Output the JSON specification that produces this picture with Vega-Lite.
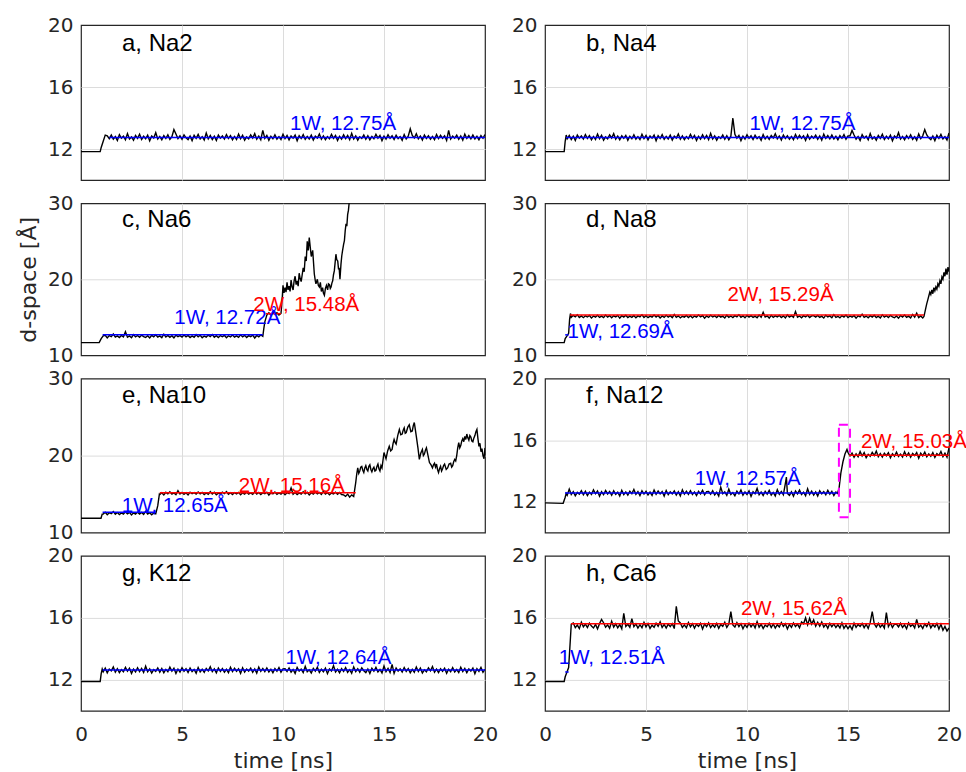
{
"$schema":"https://vega.github.io/schema/vega-lite/v6.json",
"padding":{"top":14,"left":16,"right":0,"bottom":0},
"background":"#ffffff",
"columns":2,
"spacing":{"row":23.3,"column":60},
"bounds":"flush",
"config":{
 "view":{"stroke":"#262626","strokeWidth":1.2},
 "axis":{"labelFont":"DejaVu Sans","labelFontSize":20,"labelColor":"#262626","titleFont":"DejaVu Sans","titleFontSize":22,"titleFontWeight":"normal","titleColor":"#262626","gridColor":"#dcdcdc","gridWidth":1,"domain":false,"ticks":false,"labelPadding":8},
 "axisX":{"labelFlush":false,"labelPadding":14,"titlePadding":6},
 "axisY":{"titlePadding":7},
 "line":{"strokeWidth":1.4},
 "rule":{"strokeWidth":1.5}
},
"datasets":{
"a":[{"t":0,"d":11.83},{"t":0.95,"d":11.83},{"t":1.0,"d":12.1},{"t":1.1,"d":12.5},{"t":1.2,"d":12.9},{"t":1.3,"d":12.85},{"t":1.4,"d":12.67},{"t":1.5,"d":12.9},{"t":1.6,"d":12.63},{"t":1.7,"d":12.8},{"t":1.8,"d":12.55},{"t":1.9,"d":12.93},{"t":2.0,"d":12.7},{"t":2.1,"d":12.83},{"t":2.2,"d":12.6},{"t":2.3,"d":13.0},{"t":2.4,"d":12.65},{"t":2.5,"d":12.78},{"t":2.6,"d":12.57},{"t":2.7,"d":12.87},{"t":2.8,"d":12.69},{"t":2.9,"d":12.95},{"t":3.0,"d":12.61},{"t":3.1,"d":12.82},{"t":3.2,"d":12.66},{"t":3.3,"d":12.89},{"t":3.4,"d":12.53},{"t":3.5,"d":12.84},{"t":3.6,"d":12.71},{"t":3.7,"d":13.05},{"t":3.8,"d":12.64},{"t":3.9,"d":12.81},{"t":4.0,"d":12.59},{"t":4.1,"d":12.86},{"t":4.2,"d":12.68},{"t":4.3,"d":12.92},{"t":4.4,"d":12.62},{"t":4.5,"d":12.79},{"t":4.6,"d":13.25},{"t":4.7,"d":12.97},{"t":4.8,"d":12.67},{"t":4.9,"d":12.85},{"t":5.0,"d":12.63},{"t":5.1,"d":12.91},{"t":5.2,"d":12.72},{"t":5.3,"d":12.6},{"t":5.4,"d":12.83},{"t":5.5,"d":12.54},{"t":5.6,"d":12.88},{"t":5.7,"d":12.69},{"t":5.8,"d":12.94},{"t":5.9,"d":12.65},{"t":6.0,"d":12.8},{"t":6.1,"d":12.58},{"t":6.2,"d":13.03},{"t":6.3,"d":12.66},{"t":6.4,"d":12.87},{"t":6.5,"d":12.61},{"t":6.6,"d":12.82},{"t":6.7,"d":12.55},{"t":6.8,"d":12.9},{"t":6.9,"d":12.7},{"t":7.0,"d":12.84},{"t":7.1,"d":12.64},{"t":7.2,"d":12.93},{"t":7.3,"d":12.68},{"t":7.4,"d":12.86},{"t":7.5,"d":12.59},{"t":7.6,"d":12.81},{"t":7.7,"d":12.62},{"t":7.8,"d":12.96},{"t":7.9,"d":12.67},{"t":8.0,"d":12.89},{"t":8.1,"d":12.57},{"t":8.2,"d":12.78},{"t":8.3,"d":12.65},{"t":8.4,"d":12.91},{"t":8.5,"d":12.71},{"t":8.6,"d":12.99},{"t":8.7,"d":12.63},{"t":8.8,"d":12.83},{"t":8.9,"d":12.6},{"t":9.0,"d":13.2},{"t":9.1,"d":12.69},{"t":9.2,"d":12.88},{"t":9.3,"d":12.56},{"t":9.4,"d":12.82},{"t":9.5,"d":12.66},{"t":9.6,"d":12.92},{"t":9.7,"d":12.64},{"t":9.8,"d":12.8},{"t":9.9,"d":12.61},{"t":10.0,"d":12.95},{"t":10.1,"d":12.67},{"t":10.2,"d":12.87},{"t":10.3,"d":12.59},{"t":10.4,"d":12.84},{"t":10.5,"d":12.7},{"t":10.6,"d":12.9},{"t":10.7,"d":12.53},{"t":10.8,"d":12.86},{"t":10.9,"d":12.68},{"t":11.0,"d":12.93},{"t":11.1,"d":12.62},{"t":11.2,"d":12.81},{"t":11.3,"d":12.65},{"t":11.4,"d":12.89},{"t":11.5,"d":12.58},{"t":11.6,"d":12.83},{"t":11.7,"d":12.71},{"t":11.8,"d":12.97},{"t":11.9,"d":12.63},{"t":12.0,"d":12.85},{"t":12.1,"d":12.6},{"t":12.2,"d":12.8},{"t":12.3,"d":12.66},{"t":12.4,"d":12.94},{"t":12.5,"d":12.69},{"t":12.6,"d":12.88},{"t":12.7,"d":12.55},{"t":12.8,"d":12.82},{"t":12.9,"d":12.64},{"t":13.0,"d":12.91},{"t":13.1,"d":12.67},{"t":13.2,"d":12.87},{"t":13.3,"d":12.61},{"t":13.4,"d":13.01},{"t":13.5,"d":12.65},{"t":13.6,"d":12.84},{"t":13.7,"d":12.57},{"t":13.8,"d":12.79},{"t":13.9,"d":12.68},{"t":14.0,"d":12.9},{"t":14.1,"d":12.63},{"t":14.2,"d":12.86},{"t":14.3,"d":12.59},{"t":14.4,"d":12.81},{"t":14.5,"d":12.66},{"t":14.6,"d":12.95},{"t":14.7,"d":12.7},{"t":14.8,"d":12.88},{"t":14.9,"d":12.54},{"t":15.0,"d":12.83},{"t":15.1,"d":12.64},{"t":15.2,"d":12.92},{"t":15.3,"d":12.69},{"t":15.4,"d":12.85},{"t":15.5,"d":12.61},{"t":15.6,"d":12.89},{"t":15.7,"d":12.67},{"t":15.8,"d":12.8},{"t":15.9,"d":12.56},{"t":16.0,"d":12.93},{"t":16.1,"d":12.65},{"t":16.2,"d":12.82},{"t":16.3,"d":13.3},{"t":16.4,"d":12.87},{"t":16.5,"d":12.71},{"t":16.6,"d":12.98},{"t":16.7,"d":12.66},{"t":16.8,"d":12.84},{"t":16.9,"d":12.58},{"t":17.0,"d":12.9},{"t":17.1,"d":12.68},{"t":17.2,"d":12.86},{"t":17.3,"d":12.63},{"t":17.4,"d":12.81},{"t":17.5,"d":12.6},{"t":17.6,"d":12.94},{"t":17.7,"d":12.67},{"t":17.8,"d":12.88},{"t":17.9,"d":12.69},{"t":18.0,"d":12.85},{"t":18.1,"d":12.55},{"t":18.2,"d":13.2},{"t":18.3,"d":12.64},{"t":18.4,"d":12.83},{"t":18.5,"d":12.7},{"t":18.6,"d":12.89},{"t":18.7,"d":12.62},{"t":18.8,"d":12.84},{"t":18.9,"d":12.57},{"t":19.0,"d":12.96},{"t":19.1,"d":12.68},{"t":19.2,"d":12.87},{"t":19.3,"d":12.66},{"t":19.4,"d":12.9},{"t":19.5,"d":12.65},{"t":19.6,"d":12.82},{"t":19.7,"d":12.59},{"t":19.8,"d":12.86},{"t":19.9,"d":12.69},{"t":20.0,"d":12.93}],
"b":[{"t":0,"d":11.83},{"t":0.95,"d":11.83},{"t":1.0,"d":12.5},{"t":1.05,"d":12.9},{"t":1.1,"d":12.66},{"t":1.2,"d":12.87},{"t":1.3,"d":12.61},{"t":1.4,"d":12.82},{"t":1.5,"d":12.55},{"t":1.6,"d":12.9},{"t":1.7,"d":12.7},{"t":1.8,"d":12.84},{"t":1.9,"d":12.64},{"t":2.0,"d":12.93},{"t":2.1,"d":12.68},{"t":2.2,"d":12.86},{"t":2.3,"d":12.59},{"t":2.4,"d":12.81},{"t":2.5,"d":12.62},{"t":2.6,"d":12.96},{"t":2.7,"d":12.67},{"t":2.8,"d":12.89},{"t":2.9,"d":12.57},{"t":3.0,"d":12.78},{"t":3.1,"d":12.65},{"t":3.2,"d":12.91},{"t":3.3,"d":12.71},{"t":3.4,"d":12.99},{"t":3.5,"d":12.63},{"t":3.6,"d":12.83},{"t":3.7,"d":12.6},{"t":3.8,"d":12.85},{"t":3.9,"d":12.69},{"t":4.0,"d":12.88},{"t":4.1,"d":12.56},{"t":4.2,"d":12.82},{"t":4.3,"d":12.66},{"t":4.4,"d":12.92},{"t":4.5,"d":12.64},{"t":4.6,"d":12.8},{"t":4.7,"d":12.61},{"t":4.8,"d":12.95},{"t":4.9,"d":12.67},{"t":5.0,"d":12.87},{"t":5.1,"d":12.59},{"t":5.2,"d":12.84},{"t":5.3,"d":12.7},{"t":5.4,"d":12.9},{"t":5.5,"d":12.53},{"t":5.6,"d":12.86},{"t":5.7,"d":12.68},{"t":5.8,"d":12.93},{"t":5.9,"d":12.62},{"t":6.0,"d":12.81},{"t":6.1,"d":12.65},{"t":6.2,"d":12.89},{"t":6.3,"d":12.58},{"t":6.4,"d":12.83},{"t":6.5,"d":12.71},{"t":6.6,"d":12.97},{"t":6.7,"d":12.63},{"t":6.8,"d":12.85},{"t":6.9,"d":12.6},{"t":7.0,"d":12.8},{"t":7.1,"d":12.66},{"t":7.2,"d":12.94},{"t":7.3,"d":12.69},{"t":7.4,"d":12.88},{"t":7.5,"d":12.55},{"t":7.6,"d":12.82},{"t":7.7,"d":12.64},{"t":7.8,"d":12.91},{"t":7.9,"d":12.67},{"t":8.0,"d":12.87},{"t":8.1,"d":12.61},{"t":8.2,"d":13.01},{"t":8.3,"d":12.65},{"t":8.4,"d":12.84},{"t":8.5,"d":12.57},{"t":8.6,"d":12.79},{"t":8.7,"d":12.68},{"t":8.8,"d":12.9},{"t":8.9,"d":12.63},{"t":9.0,"d":12.86},{"t":9.1,"d":12.59},{"t":9.2,"d":12.81},{"t":9.3,"d":14.0},{"t":9.4,"d":12.95},{"t":9.5,"d":12.7},{"t":9.6,"d":12.88},{"t":9.7,"d":12.54},{"t":9.8,"d":12.83},{"t":9.9,"d":12.64},{"t":10.0,"d":12.92},{"t":10.1,"d":12.69},{"t":10.2,"d":12.85},{"t":10.3,"d":12.61},{"t":10.4,"d":12.89},{"t":10.5,"d":12.67},{"t":10.6,"d":12.8},{"t":10.7,"d":12.56},{"t":10.8,"d":12.93},{"t":10.9,"d":12.65},{"t":11.0,"d":12.82},{"t":11.1,"d":12.62},{"t":11.2,"d":12.87},{"t":11.3,"d":12.71},{"t":11.4,"d":12.98},{"t":11.5,"d":12.66},{"t":11.6,"d":12.84},{"t":11.7,"d":12.58},{"t":11.8,"d":12.9},{"t":11.9,"d":12.68},{"t":12.0,"d":12.86},{"t":12.1,"d":12.63},{"t":12.2,"d":12.81},{"t":12.3,"d":12.6},{"t":12.4,"d":12.94},{"t":12.5,"d":12.67},{"t":12.6,"d":12.88},{"t":12.7,"d":12.69},{"t":12.8,"d":12.85},{"t":12.9,"d":12.55},{"t":13.0,"d":12.91},{"t":13.1,"d":12.64},{"t":13.2,"d":12.83},{"t":13.3,"d":12.7},{"t":13.4,"d":12.89},{"t":13.5,"d":12.62},{"t":13.6,"d":12.84},{"t":13.7,"d":12.57},{"t":13.8,"d":12.96},{"t":13.9,"d":12.68},{"t":14.0,"d":12.87},{"t":14.1,"d":12.66},{"t":14.2,"d":12.9},{"t":14.3,"d":12.65},{"t":14.4,"d":12.82},{"t":14.5,"d":12.59},{"t":14.6,"d":12.86},{"t":14.7,"d":12.69},{"t":14.8,"d":12.93},{"t":14.9,"d":12.63},{"t":15.0,"d":12.84},{"t":15.1,"d":12.85},{"t":15.2,"d":13.2},{"t":15.3,"d":12.9},{"t":15.4,"d":12.63},{"t":15.5,"d":12.8},{"t":15.6,"d":12.55},{"t":15.7,"d":12.93},{"t":15.8,"d":12.7},{"t":15.9,"d":12.83},{"t":16.0,"d":12.6},{"t":16.1,"d":13.0},{"t":16.2,"d":12.65},{"t":16.3,"d":12.78},{"t":16.4,"d":12.57},{"t":16.5,"d":12.87},{"t":16.6,"d":12.69},{"t":16.7,"d":12.95},{"t":16.8,"d":12.61},{"t":16.9,"d":12.82},{"t":17.0,"d":12.66},{"t":17.1,"d":12.89},{"t":17.2,"d":12.53},{"t":17.3,"d":12.84},{"t":17.4,"d":12.71},{"t":17.5,"d":13.05},{"t":17.6,"d":12.64},{"t":17.7,"d":12.81},{"t":17.8,"d":12.59},{"t":17.9,"d":12.86},{"t":18.0,"d":12.68},{"t":18.1,"d":12.92},{"t":18.2,"d":12.62},{"t":18.3,"d":12.79},{"t":18.4,"d":12.56},{"t":18.5,"d":12.97},{"t":18.6,"d":12.67},{"t":18.7,"d":12.85},{"t":18.8,"d":13.25},{"t":18.9,"d":12.91},{"t":19.0,"d":12.72},{"t":19.1,"d":12.6},{"t":19.2,"d":12.83},{"t":19.3,"d":12.54},{"t":19.4,"d":12.88},{"t":19.5,"d":12.69},{"t":19.6,"d":12.94},{"t":19.7,"d":12.65},{"t":19.8,"d":12.8},{"t":19.9,"d":12.58},{"t":20.0,"d":13.03}],
"c":[{"t":0,"d":11.67},{"t":0.9,"d":11.67},{"t":1.0,"d":12.2},{"t":1.1,"d":12.55},{"t":1.2,"d":12.64},{"t":1.3,"d":12.28},{"t":1.4,"d":12.59},{"t":1.5,"d":12.46},{"t":1.6,"d":12.8},{"t":1.7,"d":12.39},{"t":1.8,"d":12.56},{"t":1.9,"d":12.34},{"t":2.0,"d":12.61},{"t":2.1,"d":12.43},{"t":2.2,"d":13.1},{"t":2.3,"d":12.37},{"t":2.4,"d":12.54},{"t":2.5,"d":12.31},{"t":2.6,"d":12.72},{"t":2.7,"d":12.42},{"t":2.8,"d":12.6},{"t":2.9,"d":12.38},{"t":3.0,"d":12.66},{"t":3.1,"d":12.47},{"t":3.2,"d":12.35},{"t":3.3,"d":12.58},{"t":3.4,"d":12.29},{"t":3.5,"d":12.63},{"t":3.6,"d":12.44},{"t":3.7,"d":12.69},{"t":3.8,"d":12.4},{"t":3.9,"d":12.55},{"t":4.0,"d":12.33},{"t":4.1,"d":12.78},{"t":4.2,"d":12.41},{"t":4.3,"d":12.62},{"t":4.4,"d":12.36},{"t":4.5,"d":12.57},{"t":4.6,"d":12.3},{"t":4.7,"d":12.65},{"t":4.8,"d":12.45},{"t":4.9,"d":12.59},{"t":5.0,"d":12.39},{"t":5.1,"d":12.68},{"t":5.2,"d":12.43},{"t":5.3,"d":12.61},{"t":5.4,"d":12.34},{"t":5.5,"d":12.56},{"t":5.6,"d":12.37},{"t":5.7,"d":12.71},{"t":5.8,"d":12.42},{"t":5.9,"d":12.64},{"t":6.0,"d":12.32},{"t":6.1,"d":12.53},{"t":6.2,"d":12.4},{"t":6.3,"d":12.66},{"t":6.4,"d":12.46},{"t":6.5,"d":12.74},{"t":6.6,"d":12.38},{"t":6.7,"d":12.58},{"t":6.8,"d":12.35},{"t":6.9,"d":12.6},{"t":7.0,"d":12.44},{"t":7.1,"d":12.63},{"t":7.2,"d":12.31},{"t":7.3,"d":12.57},{"t":7.4,"d":12.41},{"t":7.5,"d":12.67},{"t":7.6,"d":12.39},{"t":7.7,"d":12.55},{"t":7.8,"d":12.36},{"t":7.9,"d":12.7},{"t":8.0,"d":12.42},{"t":8.1,"d":12.62},{"t":8.2,"d":12.34},{"t":8.3,"d":12.59},{"t":8.4,"d":12.45},{"t":8.5,"d":12.65},{"t":8.6,"d":12.28},{"t":8.7,"d":12.61},{"t":8.8,"d":12.43},{"t":8.9,"d":12.68},{"t":9.0,"d":12.5},{"t":9.05,"d":13.5},{"t":9.1,"d":14.4},{"t":9.2,"d":15.3},{"t":9.3,"d":15.6},{"t":9.4,"d":15.3},{"t":9.5,"d":15.7},{"t":9.6,"d":15.4},{"t":9.7,"d":15.6},{"t":9.8,"d":15.3},{"t":9.9,"d":15.5},{"t":9.95,"d":17.0},{"t":10.0,"d":19.2},{"t":10.05,"d":18.2},{"t":10.1,"d":18.9},{"t":10.15,"d":18.3},{"t":10.2,"d":19.6},{"t":10.25,"d":18.6},{"t":10.3,"d":19.1},{"t":10.35,"d":18.4},{"t":10.4,"d":19.9},{"t":10.45,"d":19.0},{"t":10.5,"d":18.6},{"t":10.55,"d":19.8},{"t":10.6,"d":20.4},{"t":10.65,"d":19.3},{"t":10.7,"d":19.8},{"t":10.75,"d":19.1},{"t":10.8,"d":20.8},{"t":10.85,"d":20.1},{"t":10.9,"d":19.7},{"t":10.95,"d":20.6},{"t":11.0,"d":21.5},{"t":11.05,"d":21.0},{"t":11.1,"d":23.0},{"t":11.15,"d":22.4},{"t":11.2,"d":25.0},{"t":11.25,"d":23.8},{"t":11.3,"d":25.5},{"t":11.35,"d":24.2},{"t":11.4,"d":23.0},{"t":11.47,"d":23.8},{"t":11.55,"d":20.7},{"t":11.6,"d":19.8},{"t":11.63,"d":19.4},{"t":11.7,"d":20.0},{"t":11.75,"d":19.2},{"t":11.8,"d":19.0},{"t":11.85,"d":19.6},{"t":11.9,"d":18.4},{"t":11.96,"d":18.9},{"t":12.0,"d":18.2},{"t":12.05,"d":17.9},{"t":12.1,"d":18.8},{"t":12.15,"d":19.2},{"t":12.21,"d":18.6},{"t":12.25,"d":19.4},{"t":12.3,"d":19.3},{"t":12.34,"d":18.8},{"t":12.38,"d":19.0},{"t":12.42,"d":19.5},{"t":12.46,"d":19.8},{"t":12.5,"d":20.6},{"t":12.54,"d":21.1},{"t":12.58,"d":22.2},{"t":12.62,"d":23.3},{"t":12.66,"d":22.6},{"t":12.71,"d":22.4},{"t":12.75,"d":21.3},{"t":12.78,"d":21.5},{"t":12.82,"d":20.0},{"t":12.87,"d":22.0},{"t":12.91,"d":23.1},{"t":12.95,"d":23.8},{"t":13.0,"d":24.6},{"t":13.04,"d":25.1},{"t":13.08,"d":26.4},{"t":13.12,"d":27.3},{"t":13.16,"d":27.0},{"t":13.2,"d":28.5},{"t":13.24,"d":29.1},{"t":13.28,"d":30.2},{"t":13.35,"d":31}],
"d":[{"t":0,"d":11.67},{"t":0.95,"d":11.67},{"t":1.0,"d":12.2},{"t":1.1,"d":12.6},{"t":1.17,"d":12.9},{"t":1.22,"d":14.8},{"t":1.26,"d":15.5},{"t":1.3,"d":15.0},{"t":1.4,"d":15.26},{"t":1.5,"d":15.06},{"t":1.6,"d":15.34},{"t":1.7,"d":14.98},{"t":1.8,"d":15.18},{"t":1.9,"d":14.95},{"t":2.0,"d":15.2},{"t":2.1,"d":15.04},{"t":2.2,"d":15.23},{"t":2.3,"d":14.91},{"t":2.4,"d":15.17},{"t":2.5,"d":15.01},{"t":2.6,"d":15.27},{"t":2.7,"d":14.99},{"t":2.8,"d":15.15},{"t":2.9,"d":14.96},{"t":3.0,"d":15.3},{"t":3.1,"d":15.02},{"t":3.2,"d":15.22},{"t":3.3,"d":14.94},{"t":3.4,"d":15.19},{"t":3.5,"d":15.05},{"t":3.6,"d":15.25},{"t":3.7,"d":14.88},{"t":3.8,"d":15.21},{"t":3.9,"d":15.03},{"t":4.0,"d":15.28},{"t":4.1,"d":14.97},{"t":4.2,"d":15.16},{"t":4.3,"d":15.0},{"t":4.4,"d":15.24},{"t":4.5,"d":14.93},{"t":4.6,"d":15.18},{"t":4.7,"d":15.06},{"t":4.8,"d":15.32},{"t":4.9,"d":14.98},{"t":5.0,"d":15.2},{"t":5.1,"d":14.95},{"t":5.2,"d":15.15},{"t":5.3,"d":15.01},{"t":5.4,"d":15.29},{"t":5.5,"d":15.04},{"t":5.6,"d":15.23},{"t":5.7,"d":14.9},{"t":5.8,"d":15.17},{"t":5.9,"d":14.99},{"t":6.0,"d":15.26},{"t":6.1,"d":15.02},{"t":6.2,"d":15.22},{"t":6.3,"d":14.96},{"t":6.4,"d":15.36},{"t":6.5,"d":15.0},{"t":6.6,"d":15.19},{"t":6.7,"d":14.92},{"t":6.8,"d":15.14},{"t":6.9,"d":15.03},{"t":7.0,"d":15.25},{"t":7.1,"d":14.98},{"t":7.2,"d":15.21},{"t":7.3,"d":14.94},{"t":7.4,"d":15.16},{"t":7.5,"d":15.01},{"t":7.6,"d":15.3},{"t":7.7,"d":15.05},{"t":7.8,"d":15.23},{"t":7.9,"d":14.89},{"t":8.0,"d":15.18},{"t":8.1,"d":14.99},{"t":8.2,"d":15.27},{"t":8.3,"d":15.04},{"t":8.4,"d":15.2},{"t":8.5,"d":14.96},{"t":8.6,"d":15.24},{"t":8.7,"d":15.02},{"t":8.8,"d":15.15},{"t":8.9,"d":14.91},{"t":9.0,"d":15.28},{"t":9.1,"d":15.0},{"t":9.2,"d":15.17},{"t":9.3,"d":14.97},{"t":9.4,"d":15.22},{"t":9.5,"d":15.06},{"t":9.6,"d":15.33},{"t":9.7,"d":15.01},{"t":9.8,"d":15.19},{"t":9.9,"d":14.93},{"t":10.0,"d":15.25},{"t":10.1,"d":15.03},{"t":10.2,"d":15.21},{"t":10.3,"d":14.98},{"t":10.4,"d":15.16},{"t":10.5,"d":14.95},{"t":10.6,"d":15.29},{"t":10.7,"d":15.02},{"t":10.8,"d":15.65},{"t":10.9,"d":15.04},{"t":11.0,"d":15.2},{"t":11.1,"d":14.9},{"t":11.2,"d":15.26},{"t":11.3,"d":14.99},{"t":11.4,"d":15.18},{"t":11.5,"d":15.05},{"t":11.6,"d":15.24},{"t":11.7,"d":14.97},{"t":11.8,"d":15.19},{"t":11.9,"d":14.92},{"t":12.0,"d":15.31},{"t":12.1,"d":15.03},{"t":12.2,"d":15.22},{"t":12.3,"d":15.01},{"t":12.4,"d":15.75},{"t":12.5,"d":15.0},{"t":12.6,"d":15.17},{"t":12.7,"d":14.94},{"t":12.8,"d":15.21},{"t":12.9,"d":15.04},{"t":13.0,"d":15.28},{"t":13.1,"d":14.98},{"t":13.2,"d":15.19},{"t":13.3,"d":15.2},{"t":13.4,"d":15.02},{"t":13.5,"d":15.25},{"t":13.6,"d":14.98},{"t":13.7,"d":15.15},{"t":13.8,"d":14.9},{"t":13.9,"d":15.28},{"t":14.0,"d":15.05},{"t":14.1,"d":15.18},{"t":14.2,"d":14.95},{"t":14.3,"d":15.35},{"t":14.4,"d":15.0},{"t":14.5,"d":15.13},{"t":14.6,"d":14.92},{"t":14.7,"d":15.22},{"t":14.8,"d":15.04},{"t":14.9,"d":15.3},{"t":15.0,"d":14.96},{"t":15.1,"d":15.17},{"t":15.2,"d":15.01},{"t":15.3,"d":15.24},{"t":15.4,"d":14.88},{"t":15.5,"d":15.19},{"t":15.6,"d":15.06},{"t":15.7,"d":15.4},{"t":15.8,"d":14.99},{"t":15.9,"d":15.16},{"t":16.0,"d":14.94},{"t":16.1,"d":15.21},{"t":16.2,"d":15.03},{"t":16.3,"d":15.27},{"t":16.4,"d":14.97},{"t":16.5,"d":15.14},{"t":16.6,"d":14.91},{"t":16.7,"d":15.32},{"t":16.8,"d":15.02},{"t":16.9,"d":15.2},{"t":17.0,"d":14.98},{"t":17.1,"d":15.26},{"t":17.2,"d":15.07},{"t":17.3,"d":14.95},{"t":17.4,"d":15.18},{"t":17.5,"d":14.89},{"t":17.6,"d":15.23},{"t":17.7,"d":15.04},{"t":17.8,"d":15.29},{"t":17.9,"d":15.0},{"t":18.0,"d":15.15},{"t":18.1,"d":14.93},{"t":18.2,"d":15.38},{"t":18.3,"d":15.01},{"t":18.4,"d":15.55},{"t":18.5,"d":14.96},{"t":18.6,"d":15.17},{"t":18.7,"d":14.9},{"t":18.76,"d":15.1},{"t":18.85,"d":16.2},{"t":18.9,"d":16.8},{"t":18.95,"d":17.3},{"t":19.0,"d":17.8},{"t":19.05,"d":18.3},{"t":19.1,"d":18.0},{"t":19.15,"d":18.6},{"t":19.2,"d":18.1},{"t":19.25,"d":18.9},{"t":19.3,"d":18.5},{"t":19.35,"d":19.0},{"t":19.4,"d":18.7},{"t":19.45,"d":19.4},{"t":19.5,"d":19.1},{"t":19.55,"d":19.8},{"t":19.6,"d":19.4},{"t":19.65,"d":20.3},{"t":19.7,"d":20.0},{"t":19.75,"d":20.9},{"t":19.8,"d":20.4},{"t":19.85,"d":21.4},{"t":19.9,"d":20.6},{"t":19.95,"d":21.6},{"t":20.0,"d":21.0}],
"e":[{"t":0,"d":11.87},{"t":0.99,"d":11.87},{"t":1.05,"d":12.4},{"t":1.1,"d":12.4},{"t":1.2,"d":12.64},{"t":1.3,"d":12.33},{"t":1.4,"d":12.58},{"t":1.5,"d":12.46},{"t":1.6,"d":12.72},{"t":1.7,"d":12.38},{"t":1.8,"d":12.6},{"t":1.9,"d":12.35},{"t":2.0,"d":12.55},{"t":2.1,"d":12.41},{"t":2.2,"d":12.69},{"t":2.3,"d":12.44},{"t":2.4,"d":12.63},{"t":2.5,"d":12.3},{"t":2.6,"d":12.57},{"t":2.7,"d":12.39},{"t":2.8,"d":12.66},{"t":2.9,"d":12.42},{"t":3.0,"d":12.62},{"t":3.1,"d":12.36},{"t":3.2,"d":12.76},{"t":3.3,"d":12.4},{"t":3.4,"d":12.59},{"t":3.5,"d":12.32},{"t":3.6,"d":12.54},{"t":3.7,"d":12.43},{"t":3.8,"d":13.5},{"t":3.88,"d":15.0},{"t":3.9,"d":14.95},{"t":4.0,"d":15.18},{"t":4.1,"d":14.89},{"t":4.2,"d":15.23},{"t":4.3,"d":15.04},{"t":4.4,"d":15.29},{"t":4.5,"d":15.0},{"t":4.6,"d":15.15},{"t":4.7,"d":14.93},{"t":4.8,"d":15.45},{"t":4.9,"d":15.01},{"t":5.0,"d":15.22},{"t":5.1,"d":14.96},{"t":5.2,"d":15.17},{"t":5.3,"d":14.9},{"t":5.4,"d":15.25},{"t":5.5,"d":15.05},{"t":5.6,"d":15.19},{"t":5.7,"d":14.99},{"t":5.8,"d":15.28},{"t":5.9,"d":15.03},{"t":6.0,"d":15.21},{"t":6.1,"d":14.94},{"t":6.2,"d":15.16},{"t":6.3,"d":14.97},{"t":6.4,"d":15.31},{"t":6.5,"d":15.02},{"t":6.6,"d":15.24},{"t":6.7,"d":14.92},{"t":6.8,"d":15.13},{"t":6.9,"d":15.0},{"t":7.0,"d":15.26},{"t":7.1,"d":15.06},{"t":7.2,"d":15.34},{"t":7.3,"d":14.98},{"t":7.4,"d":15.18},{"t":7.5,"d":14.95},{"t":7.6,"d":15.2},{"t":7.7,"d":15.04},{"t":7.8,"d":15.23},{"t":7.9,"d":14.91},{"t":8.0,"d":15.17},{"t":8.1,"d":15.01},{"t":8.2,"d":15.27},{"t":8.3,"d":14.99},{"t":8.4,"d":15.15},{"t":8.5,"d":14.96},{"t":8.6,"d":15.3},{"t":8.7,"d":15.02},{"t":8.8,"d":15.22},{"t":8.9,"d":14.94},{"t":9.0,"d":15.19},{"t":9.1,"d":15.05},{"t":9.2,"d":15.25},{"t":9.3,"d":14.88},{"t":9.4,"d":15.21},{"t":9.5,"d":15.03},{"t":9.6,"d":15.28},{"t":9.7,"d":14.97},{"t":9.8,"d":15.16},{"t":9.9,"d":15.0},{"t":10.0,"d":15.24},{"t":10.1,"d":14.93},{"t":10.2,"d":15.18},{"t":10.3,"d":15.06},{"t":10.4,"d":15.8},{"t":10.5,"d":14.98},{"t":10.6,"d":15.2},{"t":10.7,"d":14.95},{"t":10.8,"d":15.15},{"t":10.9,"d":15.01},{"t":11.0,"d":15.29},{"t":11.1,"d":15.04},{"t":11.2,"d":15.23},{"t":11.3,"d":14.9},{"t":11.4,"d":15.17},{"t":11.5,"d":14.99},{"t":11.6,"d":15.26},{"t":11.7,"d":15.02},{"t":11.8,"d":15.22},{"t":11.9,"d":14.96},{"t":12.0,"d":15.36},{"t":12.1,"d":15.0},{"t":12.2,"d":15.19},{"t":12.3,"d":14.92},{"t":12.4,"d":15.14},{"t":12.5,"d":15.03},{"t":12.6,"d":15.25},{"t":12.7,"d":14.98},{"t":12.8,"d":15.21},{"t":12.9,"d":14.94},{"t":13.0,"d":14.9},{"t":13.1,"d":14.7},{"t":13.2,"d":15.0},{"t":13.3,"d":14.6},{"t":13.4,"d":14.9},{"t":13.5,"d":14.7},{"t":13.6,"d":16.5},{"t":13.65,"d":17.6},{"t":13.7,"d":18.4},{"t":13.75,"d":17.7},{"t":13.8,"d":18.0},{"t":13.85,"d":18.5},{"t":13.9,"d":18.6},{"t":13.95,"d":18.1},{"t":14.0,"d":17.8},{"t":14.05,"d":18.4},{"t":14.1,"d":18.7},{"t":14.15,"d":18.2},{"t":14.2,"d":18.0},{"t":14.25,"d":18.6},{"t":14.3,"d":18.8},{"t":14.35,"d":18.2},{"t":14.4,"d":17.9},{"t":14.45,"d":18.3},{"t":14.5,"d":18.5},{"t":14.55,"d":18.0},{"t":14.6,"d":18.1},{"t":14.65,"d":18.6},{"t":14.7,"d":18.9},{"t":14.75,"d":18.3},{"t":14.8,"d":18.0},{"t":14.85,"d":18.7},{"t":14.9,"d":18.4},{"t":14.95,"d":19.4},{"t":15.0,"d":20.4},{"t":15.05,"d":20.0},{"t":15.1,"d":19.6},{"t":15.18,"d":20.6},{"t":15.26,"d":21.2},{"t":15.33,"d":20.6},{"t":15.4,"d":20.8},{"t":15.45,"d":21.6},{"t":15.5,"d":22.1},{"t":15.55,"d":21.7},{"t":15.6,"d":21.5},{"t":15.68,"d":22.6},{"t":15.76,"d":23.4},{"t":15.83,"d":22.7},{"t":15.9,"d":22.8},{"t":15.95,"d":23.3},{"t":16.0,"d":23.6},{"t":16.05,"d":22.9},{"t":16.1,"d":23.0},{"t":16.18,"d":23.7},{"t":16.25,"d":24.0},{"t":16.33,"d":23.1},{"t":16.4,"d":23.2},{"t":16.45,"d":23.9},{"t":16.5,"d":24.3},{"t":16.55,"d":23.4},{"t":16.6,"d":22.5},{"t":16.68,"d":21.0},{"t":16.75,"d":19.5},{"t":16.82,"d":20.3},{"t":16.9,"d":20.8},{"t":16.95,"d":20.0},{"t":17.0,"d":20.2},{"t":17.05,"d":20.7},{"t":17.1,"d":21.0},{"t":17.18,"d":20.0},{"t":17.25,"d":19.1},{"t":17.33,"d":18.8},{"t":17.4,"d":18.4},{"t":17.45,"d":18.8},{"t":17.5,"d":19.0},{"t":17.55,"d":18.5},{"t":17.6,"d":18.9},{"t":17.65,"d":18.2},{"t":17.7,"d":17.8},{"t":17.75,"d":18.3},{"t":17.8,"d":18.6},{"t":17.85,"d":18.0},{"t":17.9,"d":18.3},{"t":17.95,"d":18.7},{"t":18.0,"d":18.9},{"t":18.08,"d":18.2},{"t":18.15,"d":18.4},{"t":18.22,"d":18.9},{"t":18.3,"d":19.0},{"t":18.35,"d":18.5},{"t":18.4,"d":18.7},{"t":18.45,"d":19.2},{"t":18.5,"d":19.5},{"t":18.55,"d":19.3},{"t":18.6,"d":20.0},{"t":18.65,"d":21.0},{"t":18.7,"d":21.7},{"t":18.75,"d":21.0},{"t":18.8,"d":21.3},{"t":18.85,"d":21.9},{"t":18.9,"d":22.2},{"t":18.95,"d":21.8},{"t":19.0,"d":22.5},{"t":19.05,"d":22.1},{"t":19.1,"d":22.8},{"t":19.15,"d":22.3},{"t":19.2,"d":22.0},{"t":19.25,"d":22.6},{"t":19.3,"d":22.4},{"t":19.35,"d":21.9},{"t":19.4,"d":21.8},{"t":19.45,"d":22.3},{"t":19.5,"d":22.6},{"t":19.55,"d":23.1},{"t":19.6,"d":23.4},{"t":19.65,"d":22.2},{"t":19.7,"d":21.2},{"t":19.75,"d":21.6},{"t":19.8,"d":20.5},{"t":19.85,"d":20.9},{"t":19.9,"d":20.0},{"t":19.95,"d":19.6},{"t":20.0,"d":21.0}],
"f":[{"t":0,"d":11.93},{"t":0.9,"d":11.9},{"t":1.0,"d":12.3},{"t":1.05,"d":12.55},{"t":1.1,"d":12.43},{"t":1.2,"d":12.83},{"t":1.3,"d":12.47},{"t":1.4,"d":12.66},{"t":1.5,"d":12.39},{"t":1.6,"d":12.61},{"t":1.7,"d":12.5},{"t":1.8,"d":12.72},{"t":1.9,"d":12.45},{"t":2.0,"d":12.68},{"t":2.1,"d":12.41},{"t":2.2,"d":12.63},{"t":2.3,"d":12.48},{"t":2.4,"d":12.77},{"t":2.5,"d":12.52},{"t":2.6,"d":12.7},{"t":2.7,"d":12.36},{"t":2.8,"d":12.65},{"t":2.9,"d":12.46},{"t":3.0,"d":12.74},{"t":3.1,"d":12.51},{"t":3.2,"d":12.67},{"t":3.3,"d":12.43},{"t":3.4,"d":12.71},{"t":3.5,"d":12.49},{"t":3.6,"d":12.62},{"t":3.7,"d":12.38},{"t":3.8,"d":12.75},{"t":3.9,"d":12.47},{"t":4.0,"d":12.64},{"t":4.1,"d":12.44},{"t":4.2,"d":12.69},{"t":4.3,"d":12.53},{"t":4.4,"d":12.8},{"t":4.5,"d":12.48},{"t":4.6,"d":12.66},{"t":4.7,"d":12.4},{"t":4.8,"d":12.72},{"t":4.9,"d":12.5},{"t":5.0,"d":12.68},{"t":5.1,"d":12.45},{"t":5.2,"d":12.63},{"t":5.3,"d":12.42},{"t":5.4,"d":12.76},{"t":5.5,"d":12.49},{"t":5.6,"d":12.7},{"t":5.7,"d":12.51},{"t":5.8,"d":12.67},{"t":5.9,"d":12.37},{"t":6.0,"d":12.73},{"t":6.1,"d":12.46},{"t":6.2,"d":12.65},{"t":6.3,"d":12.52},{"t":6.4,"d":12.71},{"t":6.5,"d":12.44},{"t":6.6,"d":12.66},{"t":6.7,"d":12.39},{"t":6.8,"d":12.78},{"t":6.9,"d":12.5},{"t":7.0,"d":12.69},{"t":7.1,"d":12.48},{"t":7.2,"d":12.72},{"t":7.3,"d":12.47},{"t":7.4,"d":12.64},{"t":7.5,"d":12.41},{"t":7.6,"d":12.68},{"t":7.7,"d":12.51},{"t":7.8,"d":12.75},{"t":7.9,"d":12.45},{"t":8.0,"d":12.66},{"t":8.1,"d":12.67},{"t":8.2,"d":12.49},{"t":8.3,"d":12.72},{"t":8.4,"d":12.45},{"t":8.5,"d":12.62},{"t":8.6,"d":12.37},{"t":8.7,"d":12.95},{"t":8.8,"d":12.52},{"t":8.9,"d":12.65},{"t":9.0,"d":12.42},{"t":9.1,"d":12.82},{"t":9.2,"d":12.47},{"t":9.3,"d":12.6},{"t":9.4,"d":12.39},{"t":9.5,"d":12.69},{"t":9.6,"d":12.51},{"t":9.7,"d":12.77},{"t":9.8,"d":12.43},{"t":9.9,"d":12.64},{"t":10.0,"d":12.48},{"t":10.1,"d":12.71},{"t":10.2,"d":12.35},{"t":10.3,"d":12.66},{"t":10.4,"d":12.53},{"t":10.5,"d":12.87},{"t":10.6,"d":12.46},{"t":10.7,"d":12.63},{"t":10.8,"d":12.41},{"t":10.9,"d":12.68},{"t":11.0,"d":12.5},{"t":11.1,"d":12.74},{"t":11.2,"d":12.44},{"t":11.3,"d":12.61},{"t":11.4,"d":12.38},{"t":11.5,"d":12.79},{"t":11.6,"d":12.49},{"t":11.7,"d":12.67},{"t":11.8,"d":12.45},{"t":11.9,"d":13.2},{"t":11.95,"d":13.6},{"t":12.0,"d":12.54},{"t":12.1,"d":12.42},{"t":12.2,"d":12.65},{"t":12.3,"d":12.36},{"t":12.4,"d":12.7},{"t":12.5,"d":12.51},{"t":12.6,"d":12.76},{"t":12.7,"d":12.47},{"t":12.8,"d":12.62},{"t":12.9,"d":12.4},{"t":13.0,"d":12.85},{"t":13.1,"d":12.48},{"t":13.2,"d":12.69},{"t":13.3,"d":12.43},{"t":13.4,"d":12.64},{"t":13.5,"d":12.37},{"t":13.6,"d":12.72},{"t":13.7,"d":12.52},{"t":13.8,"d":12.66},{"t":13.9,"d":12.46},{"t":14.0,"d":12.75},{"t":14.1,"d":12.5},{"t":14.2,"d":12.68},{"t":14.3,"d":12.41},{"t":14.4,"d":12.63},{"t":14.48,"d":12.55},{"t":14.56,"d":12.9},{"t":14.65,"d":13.9},{"t":14.75,"d":14.6},{"t":14.85,"d":15.1},{"t":14.95,"d":15.4},{"t":15.0,"d":15.2},{"t":15.1,"d":14.98},{"t":15.2,"d":15.16},{"t":15.3,"d":14.89},{"t":15.4,"d":15.11},{"t":15.5,"d":14.92},{"t":15.6,"d":15.26},{"t":15.7,"d":14.97},{"t":15.8,"d":15.19},{"t":15.9,"d":14.87},{"t":16.0,"d":15.08},{"t":16.1,"d":14.95},{"t":16.2,"d":15.21},{"t":16.3,"d":15.01},{"t":16.4,"d":15.29},{"t":16.5,"d":14.93},{"t":16.6,"d":15.13},{"t":16.7,"d":14.9},{"t":16.8,"d":15.15},{"t":16.9,"d":14.99},{"t":17.0,"d":15.18},{"t":17.1,"d":14.86},{"t":17.2,"d":15.12},{"t":17.3,"d":14.96},{"t":17.4,"d":15.22},{"t":17.5,"d":14.94},{"t":17.6,"d":15.1},{"t":17.7,"d":14.91},{"t":17.8,"d":15.25},{"t":17.9,"d":14.97},{"t":18.0,"d":15.17},{"t":18.1,"d":14.89},{"t":18.2,"d":15.14},{"t":18.3,"d":15.0},{"t":18.4,"d":15.2},{"t":18.5,"d":14.83},{"t":18.6,"d":15.16},{"t":18.7,"d":14.98},{"t":18.8,"d":15.23},{"t":18.9,"d":14.92},{"t":19.0,"d":15.11},{"t":19.1,"d":14.95},{"t":19.2,"d":15.19},{"t":19.3,"d":14.88},{"t":19.4,"d":15.13},{"t":19.5,"d":15.01},{"t":19.6,"d":15.27},{"t":19.7,"d":14.93},{"t":19.8,"d":15.15},{"t":19.9,"d":14.9},{"t":20.0,"d":15.5}],
"g":[{"t":0,"d":11.9},{"t":0.95,"d":11.9},{"t":1.0,"d":12.4},{"t":1.05,"d":12.7},{"t":1.1,"d":12.52},{"t":1.2,"d":12.76},{"t":1.3,"d":12.45},{"t":1.4,"d":12.7},{"t":1.5,"d":12.58},{"t":1.6,"d":12.84},{"t":1.7,"d":12.5},{"t":1.8,"d":12.72},{"t":1.9,"d":12.47},{"t":2.0,"d":12.67},{"t":2.1,"d":12.53},{"t":2.2,"d":12.81},{"t":2.3,"d":12.56},{"t":2.4,"d":12.75},{"t":2.5,"d":12.42},{"t":2.6,"d":12.69},{"t":2.7,"d":12.51},{"t":2.8,"d":12.78},{"t":2.9,"d":12.54},{"t":3.0,"d":12.74},{"t":3.1,"d":12.48},{"t":3.2,"d":12.88},{"t":3.3,"d":12.52},{"t":3.4,"d":12.71},{"t":3.5,"d":12.44},{"t":3.6,"d":12.66},{"t":3.7,"d":12.55},{"t":3.8,"d":12.77},{"t":3.9,"d":12.5},{"t":4.0,"d":12.73},{"t":4.1,"d":12.46},{"t":4.2,"d":12.68},{"t":4.3,"d":12.53},{"t":4.4,"d":12.82},{"t":4.5,"d":12.57},{"t":4.6,"d":12.75},{"t":4.7,"d":12.41},{"t":4.8,"d":12.7},{"t":4.9,"d":12.51},{"t":5.0,"d":12.79},{"t":5.1,"d":12.56},{"t":5.2,"d":12.72},{"t":5.3,"d":12.48},{"t":5.4,"d":12.76},{"t":5.5,"d":12.54},{"t":5.6,"d":12.67},{"t":5.7,"d":12.43},{"t":5.8,"d":12.8},{"t":5.9,"d":12.52},{"t":6.0,"d":12.69},{"t":6.1,"d":12.49},{"t":6.2,"d":12.74},{"t":6.3,"d":12.58},{"t":6.4,"d":12.85},{"t":6.5,"d":12.53},{"t":6.6,"d":12.71},{"t":6.7,"d":12.45},{"t":6.8,"d":12.77},{"t":6.9,"d":12.55},{"t":7.0,"d":12.73},{"t":7.1,"d":12.5},{"t":7.2,"d":12.68},{"t":7.3,"d":12.47},{"t":7.4,"d":12.81},{"t":7.5,"d":12.54},{"t":7.6,"d":12.75},{"t":7.7,"d":12.56},{"t":7.8,"d":12.72},{"t":7.9,"d":12.42},{"t":8.0,"d":12.78},{"t":8.1,"d":12.51},{"t":8.2,"d":12.7},{"t":8.3,"d":12.57},{"t":8.4,"d":12.76},{"t":8.5,"d":12.49},{"t":8.6,"d":12.71},{"t":8.7,"d":12.44},{"t":8.8,"d":12.83},{"t":8.9,"d":12.55},{"t":9.0,"d":12.74},{"t":9.1,"d":12.53},{"t":9.2,"d":12.77},{"t":9.3,"d":12.52},{"t":9.4,"d":12.69},{"t":9.5,"d":12.46},{"t":9.6,"d":12.73},{"t":9.7,"d":12.56},{"t":9.8,"d":12.8},{"t":9.9,"d":12.5},{"t":10.0,"d":12.71},{"t":10.1,"d":12.72},{"t":10.2,"d":12.54},{"t":10.3,"d":12.77},{"t":10.4,"d":12.5},{"t":10.5,"d":12.67},{"t":10.6,"d":12.42},{"t":10.7,"d":12.8},{"t":10.8,"d":12.57},{"t":10.9,"d":12.7},{"t":11.0,"d":12.47},{"t":11.1,"d":12.87},{"t":11.2,"d":12.52},{"t":11.3,"d":12.65},{"t":11.4,"d":12.44},{"t":11.5,"d":12.74},{"t":11.6,"d":12.56},{"t":11.7,"d":12.82},{"t":11.8,"d":12.48},{"t":11.9,"d":12.69},{"t":12.0,"d":12.53},{"t":12.1,"d":12.76},{"t":12.2,"d":12.4},{"t":12.3,"d":12.71},{"t":12.4,"d":12.58},{"t":12.5,"d":12.92},{"t":12.6,"d":12.51},{"t":12.7,"d":12.68},{"t":12.8,"d":12.46},{"t":12.9,"d":12.73},{"t":13.0,"d":12.55},{"t":13.1,"d":12.79},{"t":13.2,"d":12.49},{"t":13.3,"d":12.66},{"t":13.4,"d":12.43},{"t":13.5,"d":12.84},{"t":13.6,"d":12.54},{"t":13.7,"d":12.72},{"t":13.8,"d":12.5},{"t":13.9,"d":12.78},{"t":14.0,"d":12.59},{"t":14.1,"d":12.47},{"t":14.2,"d":12.7},{"t":14.3,"d":12.41},{"t":14.4,"d":12.75},{"t":14.5,"d":12.56},{"t":14.6,"d":12.81},{"t":14.7,"d":12.52},{"t":14.8,"d":12.67},{"t":14.9,"d":12.45},{"t":15.0,"d":12.9},{"t":15.1,"d":12.53},{"t":15.2,"d":12.74},{"t":15.3,"d":12.48},{"t":15.4,"d":13.0},{"t":15.5,"d":12.42},{"t":15.6,"d":12.77},{"t":15.7,"d":12.57},{"t":15.8,"d":12.71},{"t":15.9,"d":12.51},{"t":16.0,"d":12.8},{"t":16.1,"d":12.55},{"t":16.2,"d":12.73},{"t":16.3,"d":12.46},{"t":16.4,"d":12.68},{"t":16.5,"d":12.49},{"t":16.6,"d":12.83},{"t":16.7,"d":12.54},{"t":16.8,"d":12.76},{"t":16.9,"d":12.44},{"t":17.0,"d":12.65},{"t":17.1,"d":12.52},{"t":17.2,"d":12.78},{"t":17.3,"d":12.58},{"t":17.4,"d":12.86},{"t":17.5,"d":12.5},{"t":17.6,"d":12.7},{"t":17.7,"d":12.47},{"t":17.8,"d":12.72},{"t":17.9,"d":12.56},{"t":18.0,"d":12.75},{"t":18.1,"d":12.43},{"t":18.2,"d":12.69},{"t":18.3,"d":12.53},{"t":18.4,"d":12.79},{"t":18.5,"d":12.51},{"t":18.6,"d":12.67},{"t":18.7,"d":12.48},{"t":18.8,"d":12.82},{"t":18.9,"d":12.54},{"t":19.0,"d":12.74},{"t":19.1,"d":12.46},{"t":19.2,"d":12.71},{"t":19.3,"d":12.57},{"t":19.4,"d":12.77},{"t":19.5,"d":12.4},{"t":19.6,"d":12.73},{"t":19.7,"d":12.55},{"t":19.8,"d":12.8},{"t":19.9,"d":12.49},{"t":20.0,"d":12.68}],
"h":[{"t":0,"d":11.9},{"t":0.95,"d":11.9},{"t":1.0,"d":12.2},{"t":1.07,"d":12.45},{"t":1.17,"d":12.8},{"t":1.25,"d":14.5},{"t":1.3,"d":15.6},{"t":1.4,"d":15.67},{"t":1.5,"d":15.37},{"t":1.6,"d":15.54},{"t":1.7,"d":15.31},{"t":1.8,"d":15.72},{"t":1.9,"d":15.42},{"t":2.0,"d":15.6},{"t":2.1,"d":15.38},{"t":2.2,"d":15.66},{"t":2.3,"d":15.47},{"t":2.4,"d":15.35},{"t":2.5,"d":15.58},{"t":2.6,"d":15.29},{"t":2.7,"d":15.63},{"t":2.8,"d":15.9},{"t":2.9,"d":15.69},{"t":3.0,"d":15.4},{"t":3.1,"d":15.55},{"t":3.2,"d":15.33},{"t":3.3,"d":15.78},{"t":3.4,"d":15.41},{"t":3.5,"d":15.62},{"t":3.6,"d":15.36},{"t":3.7,"d":15.57},{"t":3.8,"d":15.3},{"t":3.9,"d":16.3},{"t":4.0,"d":15.45},{"t":4.1,"d":15.59},{"t":4.2,"d":15.39},{"t":4.3,"d":15.95},{"t":4.4,"d":15.43},{"t":4.5,"d":15.61},{"t":4.6,"d":15.34},{"t":4.7,"d":15.56},{"t":4.8,"d":15.37},{"t":4.9,"d":15.71},{"t":5.0,"d":15.42},{"t":5.1,"d":15.64},{"t":5.2,"d":15.32},{"t":5.3,"d":15.53},{"t":5.4,"d":15.4},{"t":5.5,"d":15.66},{"t":5.6,"d":15.46},{"t":5.7,"d":15.74},{"t":5.8,"d":15.38},{"t":5.9,"d":15.58},{"t":6.0,"d":15.35},{"t":6.1,"d":15.6},{"t":6.2,"d":15.44},{"t":6.3,"d":15.63},{"t":6.4,"d":15.31},{"t":6.5,"d":16.75},{"t":6.6,"d":15.8},{"t":6.7,"d":15.67},{"t":6.8,"d":15.39},{"t":6.9,"d":15.55},{"t":7.0,"d":15.36},{"t":7.1,"d":15.7},{"t":7.2,"d":15.42},{"t":7.3,"d":15.62},{"t":7.4,"d":15.34},{"t":7.5,"d":15.59},{"t":7.6,"d":15.45},{"t":7.7,"d":15.65},{"t":7.8,"d":15.28},{"t":7.9,"d":15.61},{"t":8.0,"d":15.43},{"t":8.1,"d":15.68},{"t":8.2,"d":15.37},{"t":8.3,"d":15.56},{"t":8.4,"d":15.4},{"t":8.5,"d":15.64},{"t":8.6,"d":15.33},{"t":8.7,"d":15.58},{"t":8.8,"d":15.46},{"t":8.9,"d":15.72},{"t":9.0,"d":15.38},{"t":9.1,"d":15.6},{"t":9.2,"d":16.4},{"t":9.3,"d":15.55},{"t":9.4,"d":15.41},{"t":9.5,"d":15.69},{"t":9.6,"d":15.44},{"t":9.7,"d":15.63},{"t":9.8,"d":15.3},{"t":9.9,"d":15.57},{"t":10.0,"d":15.39},{"t":10.1,"d":15.66},{"t":10.2,"d":15.42},{"t":10.3,"d":15.62},{"t":10.4,"d":15.36},{"t":10.5,"d":15.76},{"t":10.6,"d":15.4},{"t":10.7,"d":15.59},{"t":10.8,"d":15.32},{"t":10.9,"d":15.54},{"t":11.0,"d":15.43},{"t":11.1,"d":15.65},{"t":11.2,"d":15.38},{"t":11.3,"d":15.61},{"t":11.4,"d":15.34},{"t":11.5,"d":15.56},{"t":11.6,"d":15.41},{"t":11.7,"d":15.7},{"t":11.8,"d":15.45},{"t":11.9,"d":15.63},{"t":12.0,"d":15.29},{"t":12.1,"d":15.58},{"t":12.2,"d":15.39},{"t":12.3,"d":15.67},{"t":12.4,"d":15.44},{"t":12.5,"d":15.6},{"t":12.6,"d":15.36},{"t":12.7,"d":15.74},{"t":12.8,"d":15.62},{"t":12.9,"d":16.0},{"t":13.0,"d":15.55},{"t":13.1,"d":15.98},{"t":13.2,"d":15.6},{"t":13.3,"d":15.87},{"t":13.4,"d":15.47},{"t":13.5,"d":15.72},{"t":13.6,"d":15.46},{"t":13.7,"d":15.73},{"t":13.8,"d":15.41},{"t":13.9,"d":15.59},{"t":14.0,"d":15.33},{"t":14.1,"d":15.65},{"t":14.2,"d":15.43},{"t":14.3,"d":15.61},{"t":14.4,"d":15.38},{"t":14.5,"d":15.56},{"t":14.6,"d":15.35},{"t":14.7,"d":15.69},{"t":14.8,"d":15.32},{"t":14.9,"d":15.53},{"t":15.0,"d":15.3},{"t":15.1,"d":15.5},{"t":15.2,"d":15.25},{"t":15.3,"d":15.66},{"t":15.4,"d":15.39},{"t":15.5,"d":15.58},{"t":15.6,"d":15.45},{"t":15.7,"d":15.64},{"t":15.8,"d":15.37},{"t":15.9,"d":15.59},{"t":16.0,"d":15.32},{"t":16.1,"d":15.71},{"t":16.2,"d":16.4},{"t":16.3,"d":15.62},{"t":16.4,"d":15.41},{"t":16.5,"d":15.65},{"t":16.6,"d":15.4},{"t":16.7,"d":15.57},{"t":16.8,"d":15.34},{"t":16.9,"d":16.35},{"t":17.0,"d":15.44},{"t":17.1,"d":15.68},{"t":17.2,"d":15.38},{"t":17.3,"d":15.59},{"t":17.4,"d":15.6},{"t":17.5,"d":15.42},{"t":17.6,"d":15.65},{"t":17.7,"d":15.38},{"t":17.8,"d":15.55},{"t":17.9,"d":15.3},{"t":18.0,"d":15.68},{"t":18.1,"d":15.45},{"t":18.2,"d":15.58},{"t":18.3,"d":15.35},{"t":18.4,"d":15.9},{"t":18.5,"d":15.4},{"t":18.6,"d":15.53},{"t":18.7,"d":15.32},{"t":18.8,"d":15.62},{"t":18.9,"d":15.44},{"t":19.0,"d":15.7},{"t":19.1,"d":15.36},{"t":19.2,"d":15.57},{"t":19.3,"d":15.41},{"t":19.4,"d":15.64},{"t":19.5,"d":15.28},{"t":19.6,"d":15.59},{"t":19.7,"d":15.2},{"t":19.8,"d":15.45},{"t":19.9,"d":15.15},{"t":20.0,"d":15.35}],
"fits":[{"p":"a","t0":1.4,"t1":20,"d":12.75,"w":"1W"},{"p":"b","t0":1.04,"t1":20,"d":12.75,"w":"1W"},{"p":"c","t0":1.07,"t1":9.0,"d":12.72,"w":"1W"},{"p":"c","t0":9.15,"t1":9.9,"d":15.48,"w":"2W"},{"p":"d","t0":1.0,"t1":1.17,"d":12.69,"w":"1W"},{"p":"d","t0":1.24,"t1":18.76,"d":15.29,"w":"2W"},{"p":"e","t0":1.07,"t1":3.71,"d":12.65,"w":"1W"},{"p":"e","t0":3.9,"t1":13.6,"d":15.16,"w":"2W"},{"p":"f","t0":0.99,"t1":14.48,"d":12.57,"w":"1W"},{"p":"f","t0":15.05,"t1":20,"d":15.03,"w":"2W"},{"p":"g","t0":1.07,"t1":20,"d":12.64,"w":"1W"},{"p":"h","t0":1.0,"t1":1.17,"d":12.51,"w":"1W"},{"p":"h","t0":1.29,"t1":20,"d":15.62,"w":"2W"}],
"notes":[{"p":"a","t":10.35,"d":13.24,"s":"1W, 12.75Å","w":"1W"},{"p":"b","t":10.12,"d":13.24,"s":"1W, 12.75Å","w":"1W"},{"p":"c","t":4.62,"d":14.1,"s":"1W, 12.72Å","w":"1W"},{"p":"c","t":8.53,"d":15.84,"s":"2W, 15.48Å","w":"2W"},{"p":"d","t":1.12,"d":12.32,"s":"1W, 12.69Å","w":"1W"},{"p":"d","t":9.04,"d":17.16,"s":"2W, 15.29Å","w":"2W"},{"p":"e","t":2.02,"d":12.65,"s":"1W, 12.65Å","w":"1W"},{"p":"e","t":7.81,"d":15.25,"s":"2W, 15.16Å","w":"2W"},{"p":"f","t":7.41,"d":13.06,"s":"1W, 12.57Å","w":"1W"},{"p":"f","t":15.64,"d":15.51,"s":"2W, 15.03Å","w":"2W"},{"p":"g","t":10.12,"d":13.03,"s":"1W, 12.64Å","w":"1W"},{"p":"h","t":0.68,"d":13.0,"s":"1W, 12.51Å","w":"1W"},{"p":"h","t":9.7,"d":16.17,"s":"2W, 15.62Å","w":"2W"}],
"names":[{"p":"a","t":2.03,"d":18.35,"s":"a, Na2"},{"p":"b","t":2.03,"d":18.35,"s":"b, Na4"},{"p":"c","t":2.03,"d":26.85,"s":"c, Na6"},{"p":"d","t":2.03,"d":26.85,"s":"d, Na8"},{"p":"e","t":2.03,"d":26.85,"s":"e, Na10"},{"p":"f","t":2.03,"d":18.44,"s":"f, Na12"},{"p":"g","t":2.03,"d":18.4,"s":"g, K12"},{"p":"h","t":2.03,"d":18.4,"s":"h, Ca6"}],
"box":[{"t0":14.55,"t1":15.1,"d0":11.0,"d1":17.0}]
},
"concat":[
{"width":404,"height":155,"layer":[
 {"data":{"name":"a"},"mark":{"type":"line","color":"#000000","clip":true},"encoding":{"x":{"field":"t","type":"quantitative","scale":{"domain":[0,20],"nice":false,"zero":false},"axis":{"values":[0,5,10,15,20],"labels":false,"title":null,"gridOpacity":{"condition":{"test":"datum.value<=0||datum.value>=20","value":0},"value":1}}},"y":{"field":"d","type":"quantitative","scale":{"domain":[10,20],"nice":false,"zero":false},"axis":{"values":[12,16,20],"title":null,"gridOpacity":{"condition":{"test":"datum.value>=20","value":0},"value":1}}}}},
 {"data":{"name":"fits"},"transform":[{"filter":"datum.p==='a'"}],"mark":{"type":"rule"},"encoding":{"x":{"field":"t0","type":"quantitative"},"x2":{"field":"t1"},"y":{"field":"d","type":"quantitative"},"color":{"field":"w","type":"nominal","scale":{"domain":["1W","2W"],"range":["#0000ff","#ff0000"]},"legend":null}}},
 {"data":{"name":"notes"},"transform":[{"filter":"datum.p==='a'"}],"mark":{"type":"text","align":"left","baseline":"alphabetic","font":"Liberation Sans","fontSize":20.5},"encoding":{"x":{"field":"t","type":"quantitative"},"y":{"field":"d","type":"quantitative"},"text":{"field":"s"},"color":{"field":"w","type":"nominal","scale":{"domain":["1W","2W"],"range":["#0000ff","#ff0000"]},"legend":null}}},
 {"data":{"name":"names"},"transform":[{"filter":"datum.p==='a'"}],"mark":{"type":"text","align":"left","baseline":"alphabetic","font":"Liberation Sans","fontSize":24,"color":"#000000"},"encoding":{"x":{"field":"t","type":"quantitative"},"y":{"field":"d","type":"quantitative"},"text":{"field":"s"}}}
]},
{"width":404,"height":155,"layer":[
 {"data":{"name":"b"},"mark":{"type":"line","color":"#000000","clip":true},"encoding":{"x":{"field":"t","type":"quantitative","scale":{"domain":[0,20],"nice":false,"zero":false},"axis":{"values":[0,5,10,15,20],"labels":false,"title":null,"gridOpacity":{"condition":{"test":"datum.value<=0||datum.value>=20","value":0},"value":1}}},"y":{"field":"d","type":"quantitative","scale":{"domain":[10,20],"nice":false,"zero":false},"axis":{"values":[12,16,20],"title":null,"gridOpacity":{"condition":{"test":"datum.value>=20","value":0},"value":1}}}}},
 {"data":{"name":"fits"},"transform":[{"filter":"datum.p==='b'"}],"mark":{"type":"rule"},"encoding":{"x":{"field":"t0","type":"quantitative"},"x2":{"field":"t1"},"y":{"field":"d","type":"quantitative"},"color":{"field":"w","type":"nominal","scale":{"domain":["1W","2W"],"range":["#0000ff","#ff0000"]},"legend":null}}},
 {"data":{"name":"notes"},"transform":[{"filter":"datum.p==='b'"}],"mark":{"type":"text","align":"left","baseline":"alphabetic","font":"Liberation Sans","fontSize":20.5},"encoding":{"x":{"field":"t","type":"quantitative"},"y":{"field":"d","type":"quantitative"},"text":{"field":"s"},"color":{"field":"w","type":"nominal","scale":{"domain":["1W","2W"],"range":["#0000ff","#ff0000"]},"legend":null}}},
 {"data":{"name":"names"},"transform":[{"filter":"datum.p==='b'"}],"mark":{"type":"text","align":"left","baseline":"alphabetic","font":"Liberation Sans","fontSize":24,"color":"#000000"},"encoding":{"x":{"field":"t","type":"quantitative"},"y":{"field":"d","type":"quantitative"},"text":{"field":"s"}}}
]},
{"width":404,"height":152,"layer":[
 {"data":{"name":"c"},"mark":{"type":"line","color":"#000000","clip":true},"encoding":{"x":{"field":"t","type":"quantitative","scale":{"domain":[0,20],"nice":false,"zero":false},"axis":{"values":[0,5,10,15,20],"labels":false,"title":null,"gridOpacity":{"condition":{"test":"datum.value<=0||datum.value>=20","value":0},"value":1}}},"y":{"field":"d","type":"quantitative","scale":{"domain":[10,30],"nice":false,"zero":false},"axis":{"values":[10,20,30],"title":"d-space [Å]","gridOpacity":{"condition":{"test":"datum.value<=10||datum.value>=30","value":0},"value":1}}}}},
 {"data":{"name":"fits"},"transform":[{"filter":"datum.p==='c'"}],"mark":{"type":"rule"},"encoding":{"x":{"field":"t0","type":"quantitative"},"x2":{"field":"t1"},"y":{"field":"d","type":"quantitative"},"color":{"field":"w","type":"nominal","scale":{"domain":["1W","2W"],"range":["#0000ff","#ff0000"]},"legend":null}}},
 {"data":{"name":"notes"},"transform":[{"filter":"datum.p==='c'"}],"mark":{"type":"text","align":"left","baseline":"alphabetic","font":"Liberation Sans","fontSize":20.5},"encoding":{"x":{"field":"t","type":"quantitative"},"y":{"field":"d","type":"quantitative"},"text":{"field":"s"},"color":{"field":"w","type":"nominal","scale":{"domain":["1W","2W"],"range":["#0000ff","#ff0000"]},"legend":null}}},
 {"data":{"name":"names"},"transform":[{"filter":"datum.p==='c'"}],"mark":{"type":"text","align":"left","baseline":"alphabetic","font":"Liberation Sans","fontSize":24,"color":"#000000"},"encoding":{"x":{"field":"t","type":"quantitative"},"y":{"field":"d","type":"quantitative"},"text":{"field":"s"}}}
]},
{"width":404,"height":152,"layer":[
 {"data":{"name":"d"},"mark":{"type":"line","color":"#000000","clip":true},"encoding":{"x":{"field":"t","type":"quantitative","scale":{"domain":[0,20],"nice":false,"zero":false},"axis":{"values":[0,5,10,15,20],"labels":false,"title":null,"gridOpacity":{"condition":{"test":"datum.value<=0||datum.value>=20","value":0},"value":1}}},"y":{"field":"d","type":"quantitative","scale":{"domain":[10,30],"nice":false,"zero":false},"axis":{"values":[10,20,30],"title":null,"gridOpacity":{"condition":{"test":"datum.value<=10||datum.value>=30","value":0},"value":1}}}}},
 {"data":{"name":"fits"},"transform":[{"filter":"datum.p==='d'"}],"mark":{"type":"rule"},"encoding":{"x":{"field":"t0","type":"quantitative"},"x2":{"field":"t1"},"y":{"field":"d","type":"quantitative"},"color":{"field":"w","type":"nominal","scale":{"domain":["1W","2W"],"range":["#0000ff","#ff0000"]},"legend":null}}},
 {"data":{"name":"notes"},"transform":[{"filter":"datum.p==='d'"}],"mark":{"type":"text","align":"left","baseline":"alphabetic","font":"Liberation Sans","fontSize":20.5},"encoding":{"x":{"field":"t","type":"quantitative"},"y":{"field":"d","type":"quantitative"},"text":{"field":"s"},"color":{"field":"w","type":"nominal","scale":{"domain":["1W","2W"],"range":["#0000ff","#ff0000"]},"legend":null}}},
 {"data":{"name":"names"},"transform":[{"filter":"datum.p==='d'"}],"mark":{"type":"text","align":"left","baseline":"alphabetic","font":"Liberation Sans","fontSize":24,"color":"#000000"},"encoding":{"x":{"field":"t","type":"quantitative"},"y":{"field":"d","type":"quantitative"},"text":{"field":"s"}}}
]},
{"width":404,"height":154,"layer":[
 {"data":{"name":"e"},"mark":{"type":"line","color":"#000000","clip":true},"encoding":{"x":{"field":"t","type":"quantitative","scale":{"domain":[0,20],"nice":false,"zero":false},"axis":{"values":[0,5,10,15,20],"labels":false,"title":null,"gridOpacity":{"condition":{"test":"datum.value<=0||datum.value>=20","value":0},"value":1}}},"y":{"field":"d","type":"quantitative","scale":{"domain":[10,30],"nice":false,"zero":false},"axis":{"values":[10,20,30],"title":null,"gridOpacity":{"condition":{"test":"datum.value<=10||datum.value>=30","value":0},"value":1}}}}},
 {"data":{"name":"fits"},"transform":[{"filter":"datum.p==='e'"}],"mark":{"type":"rule"},"encoding":{"x":{"field":"t0","type":"quantitative"},"x2":{"field":"t1"},"y":{"field":"d","type":"quantitative"},"color":{"field":"w","type":"nominal","scale":{"domain":["1W","2W"],"range":["#0000ff","#ff0000"]},"legend":null}}},
 {"data":{"name":"notes"},"transform":[{"filter":"datum.p==='e'"}],"mark":{"type":"text","align":"left","baseline":"alphabetic","font":"Liberation Sans","fontSize":20.5},"encoding":{"x":{"field":"t","type":"quantitative"},"y":{"field":"d","type":"quantitative"},"text":{"field":"s"},"color":{"field":"w","type":"nominal","scale":{"domain":["1W","2W"],"range":["#0000ff","#ff0000"]},"legend":null}}},
 {"data":{"name":"names"},"transform":[{"filter":"datum.p==='e'"}],"mark":{"type":"text","align":"left","baseline":"alphabetic","font":"Liberation Sans","fontSize":24,"color":"#000000"},"encoding":{"x":{"field":"t","type":"quantitative"},"y":{"field":"d","type":"quantitative"},"text":{"field":"s"}}}
]},
{"width":404,"height":154,"layer":[
 {"data":{"name":"f"},"mark":{"type":"line","color":"#000000","clip":true},"encoding":{"x":{"field":"t","type":"quantitative","scale":{"domain":[0,20],"nice":false,"zero":false},"axis":{"values":[0,5,10,15,20],"labels":false,"title":null,"gridOpacity":{"condition":{"test":"datum.value<=0||datum.value>=20","value":0},"value":1}}},"y":{"field":"d","type":"quantitative","scale":{"domain":[10,20],"nice":false,"zero":false},"axis":{"values":[12,16,20],"title":null,"gridOpacity":{"condition":{"test":"datum.value>=20","value":0},"value":1}}}}},
 {"data":{"name":"fits"},"transform":[{"filter":"datum.p==='f'"}],"mark":{"type":"rule"},"encoding":{"x":{"field":"t0","type":"quantitative"},"x2":{"field":"t1"},"y":{"field":"d","type":"quantitative"},"color":{"field":"w","type":"nominal","scale":{"domain":["1W","2W"],"range":["#0000ff","#ff0000"]},"legend":null}}},
 {"data":{"name":"box"},"mark":{"type":"rect","filled":false,"stroke":"#ff00ff","strokeWidth":2,"strokeDash":[9,6]},"encoding":{"x":{"field":"t0","type":"quantitative"},"x2":{"field":"t1"},"y":{"field":"d0","type":"quantitative"},"y2":{"field":"d1"}}},
 {"data":{"name":"notes"},"transform":[{"filter":"datum.p==='f'"}],"mark":{"type":"text","align":"left","baseline":"alphabetic","font":"Liberation Sans","fontSize":20.5},"encoding":{"x":{"field":"t","type":"quantitative"},"y":{"field":"d","type":"quantitative"},"text":{"field":"s"},"color":{"field":"w","type":"nominal","scale":{"domain":["1W","2W"],"range":["#0000ff","#ff0000"]},"legend":null}}},
 {"data":{"name":"names"},"transform":[{"filter":"datum.p==='f'"}],"mark":{"type":"text","align":"left","baseline":"alphabetic","font":"Liberation Sans","fontSize":24,"color":"#000000"},"encoding":{"x":{"field":"t","type":"quantitative"},"y":{"field":"d","type":"quantitative"},"text":{"field":"s"}}}
]},
{"width":404,"height":155,"layer":[
 {"data":{"name":"g"},"mark":{"type":"line","color":"#000000","clip":true},"encoding":{"x":{"field":"t","type":"quantitative","scale":{"domain":[0,20],"nice":false,"zero":false},"axis":{"values":[0,5,10,15,20],"title":"time [ns]","gridOpacity":{"condition":{"test":"datum.value<=0||datum.value>=20","value":0},"value":1}}},"y":{"field":"d","type":"quantitative","scale":{"domain":[10,20],"nice":false,"zero":false},"axis":{"values":[12,16,20],"title":null,"gridOpacity":{"condition":{"test":"datum.value>=20","value":0},"value":1}}}}},
 {"data":{"name":"fits"},"transform":[{"filter":"datum.p==='g'"}],"mark":{"type":"rule"},"encoding":{"x":{"field":"t0","type":"quantitative"},"x2":{"field":"t1"},"y":{"field":"d","type":"quantitative"},"color":{"field":"w","type":"nominal","scale":{"domain":["1W","2W"],"range":["#0000ff","#ff0000"]},"legend":null}}},
 {"data":{"name":"notes"},"transform":[{"filter":"datum.p==='g'"}],"mark":{"type":"text","align":"left","baseline":"alphabetic","font":"Liberation Sans","fontSize":20.5},"encoding":{"x":{"field":"t","type":"quantitative"},"y":{"field":"d","type":"quantitative"},"text":{"field":"s"},"color":{"field":"w","type":"nominal","scale":{"domain":["1W","2W"],"range":["#0000ff","#ff0000"]},"legend":null}}},
 {"data":{"name":"names"},"transform":[{"filter":"datum.p==='g'"}],"mark":{"type":"text","align":"left","baseline":"alphabetic","font":"Liberation Sans","fontSize":24,"color":"#000000"},"encoding":{"x":{"field":"t","type":"quantitative"},"y":{"field":"d","type":"quantitative"},"text":{"field":"s"}}}
]},
{"width":404,"height":155,"layer":[
 {"data":{"name":"h"},"mark":{"type":"line","color":"#000000","clip":true},"encoding":{"x":{"field":"t","type":"quantitative","scale":{"domain":[0,20],"nice":false,"zero":false},"axis":{"values":[0,5,10,15,20],"title":"time [ns]","gridOpacity":{"condition":{"test":"datum.value<=0||datum.value>=20","value":0},"value":1}}},"y":{"field":"d","type":"quantitative","scale":{"domain":[10,20],"nice":false,"zero":false},"axis":{"values":[12,16,20],"title":null,"gridOpacity":{"condition":{"test":"datum.value>=20","value":0},"value":1}}}}},
 {"data":{"name":"fits"},"transform":[{"filter":"datum.p==='h'"}],"mark":{"type":"rule"},"encoding":{"x":{"field":"t0","type":"quantitative"},"x2":{"field":"t1"},"y":{"field":"d","type":"quantitative"},"color":{"field":"w","type":"nominal","scale":{"domain":["1W","2W"],"range":["#0000ff","#ff0000"]},"legend":null}}},
 {"data":{"name":"notes"},"transform":[{"filter":"datum.p==='h'"}],"mark":{"type":"text","align":"left","baseline":"alphabetic","font":"Liberation Sans","fontSize":20.5},"encoding":{"x":{"field":"t","type":"quantitative"},"y":{"field":"d","type":"quantitative"},"text":{"field":"s"},"color":{"field":"w","type":"nominal","scale":{"domain":["1W","2W"],"range":["#0000ff","#ff0000"]},"legend":null}}},
 {"data":{"name":"names"},"transform":[{"filter":"datum.p==='h'"}],"mark":{"type":"text","align":"left","baseline":"alphabetic","font":"Liberation Sans","fontSize":24,"color":"#000000"},"encoding":{"x":{"field":"t","type":"quantitative"},"y":{"field":"d","type":"quantitative"},"text":{"field":"s"}}}
]}
]
}
